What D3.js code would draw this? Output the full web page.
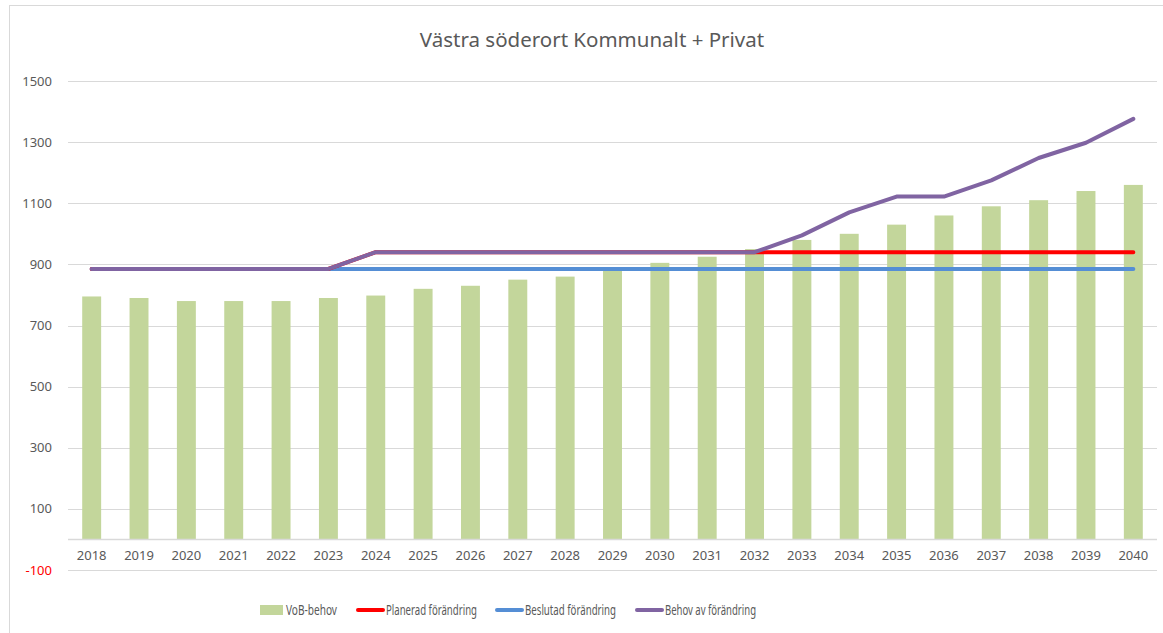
<!DOCTYPE html>
<html>
<head>
<meta charset="utf-8">
<script src="https://cdn.jsdelivr.net/npm/d3@7"></script>
<style>
body { margin: 0; background: #fff; }
text { font-family: "Noto Sans", sans-serif; fill: #595959; }
</style>
</head>
<body>
<div id="chart"></div>
<script>
// data
var years = ["2018","2019","2020","2021","2022","2023","2024","2025","2026","2027","2028","2029",
             "2030","2031","2032","2033","2034","2035","2036","2037","2038","2039","2040"];
var vobBehov = [795,790,780,780,780,790,798,820,830,850,860,880,905,925,950,980,1000,1030,1060,1090,1110,1140,1160];
var planerad = [885,885,885,885,885,885,940,940,940,940,940,940,940,940,940,940,940,940,940,940,940,940,940];
var beslutad = [885,885,885,885,885,885,885,885,885,885,885,885,885,885,885,885,885,885,885,885,885,885,885];
var behov = [885,885,885,885,885,885,940,940,940,940,940,940,940,940,940,995,1070,1122,1122,1175,1248,1298,1376];
var yTicks = [-100,100,300,500,700,900,1100,1300,1500];
var title = "Västra söderort Kommunalt + Privat";

var W = 1163, H = 633;
var plot = { left: 68, right: 1157, top: 81, bottom: 570 };

var svg = d3.select("#chart").append("svg")
  .attr("width", W)
  .attr("height", H);

//chart frame
svg.append("rect")
  .attr("x", 9.5).attr("y", 5.5)
  .attr("width", W + 10).attr("height", H + 10)
  .attr("fill", "#fff")
  .attr("stroke", "#d9d9d9");

var x = d3.scaleBand().domain(years).range([plot.left, plot.right]).paddingInner(0.6).paddingOuter(0.3);
var xc = d3.scaleBand().domain(years).range([plot.left, plot.right]);
var y = d3.scaleLinear().domain([-100, 1500]).range([plot.bottom, plot.top]);

//gridlines + y labels
svg.append("g").selectAll("line").data(yTicks).join("line")
  .attr("x1", plot.left).attr("x2", plot.right)
  .attr("y1", d => Math.round(y(d)) + 0.5).attr("y2", d => Math.round(y(d)) + 0.5)
  .attr("stroke", "#d9d9d9").attr("stroke-width", 1);

svg.append("g").selectAll("text").data(yTicks).join("text")
  .attr("x", 52).attr("y", d => y(d))
  .attr("dy", "0.35em")
  .attr("text-anchor", "end")
  .style("font-size", "13px")
  .style("fill", d => d < 0 ? "#ff0000" : "#595959")
  .text(d => d);

//bars
svg.append("g").selectAll("rect").data(vobBehov).join("rect")
  .attr("x", (d, i) => x(years[i]))
  .attr("width", x.bandwidth())
  .attr("y", d => y(d))
  .attr("height", d => y(0) - y(d))
  .attr("fill", "#c3d69b");

//category axis at 0
svg.append("line")
  .attr("x1", plot.left).attr("x2", plot.right)
  .attr("y1", Math.round(y(0)) + 0.5).attr("y2", Math.round(y(0)) + 0.5)
  .attr("stroke", "#d9d9d9").attr("stroke-width", 1.5);

svg.append("g").selectAll("text").data(years).join("text")
  .attr("x", d => xc(d) + xc.bandwidth() / 2)
  .attr("y", 560)
  .attr("text-anchor", "middle")
  .style("font-size", "13px")
  .text(d => d);

//lines
var line = d3.line()
  .x((d, i) => xc(years[i]) + xc.bandwidth() / 2)
  .y(d => y(d));

var series = [
  { name: "Beslutad förändring", values: beslutad, color: "#558ed5" },
  { name: "Planerad förändring", values: planerad, color: "#ff0000" },
  { name: "Behov av förändring", values: behov, color: "#8064a2" }
];

svg.append("g").selectAll("path").data(series).join("path")
  .attr("d", d => line(d.values))
  .attr("fill", "none")
  .attr("stroke", d => d.color)
  .attr("stroke-width", 4)
  .attr("stroke-linecap", "round")
  .attr("stroke-linejoin", "round");

//title
svg.append("text")
  .attr("x", 592).attr("y", 47)
  .attr("text-anchor", "middle")
  .style("font-size", "20.5px")
  .text(title);

//legend (calibri-ish narrow text)
var lg = svg.append("g").attr("transform", "translate(0,610)");
lg.append("rect").attr("x", 260).attr("y", -5).attr("width", 23).attr("height", 10).attr("fill", "#c3d69b");
lg.append("text").attr("x", 286).attr("dy", "0.35em").style("font-size", "14px")
  .attr("textLength", 51).attr("lengthAdjust", "spacingAndGlyphs")
  .text("VoB-behov");

var legendLines = [
  { s: series[1], x: 358 },
  { s: series[0], x: 497 },
  { s: series[2], x: 637 }
];
legendLines.forEach(function(l) {
  lg.append("line").attr("x1", l.x).attr("x2", l.x + 25).attr("y1", 0).attr("y2", 0)
    .attr("stroke", l.s.color).attr("stroke-width", 4).attr("stroke-linecap", "round");
  lg.append("text").attr("x", l.x + 28).attr("dy", "0.35em").style("font-size", "14px")
    .attr("textLength", 91).attr("lengthAdjust", "spacingAndGlyphs")
    .text(l.s.name);
});
</script>
</body>
</html>
